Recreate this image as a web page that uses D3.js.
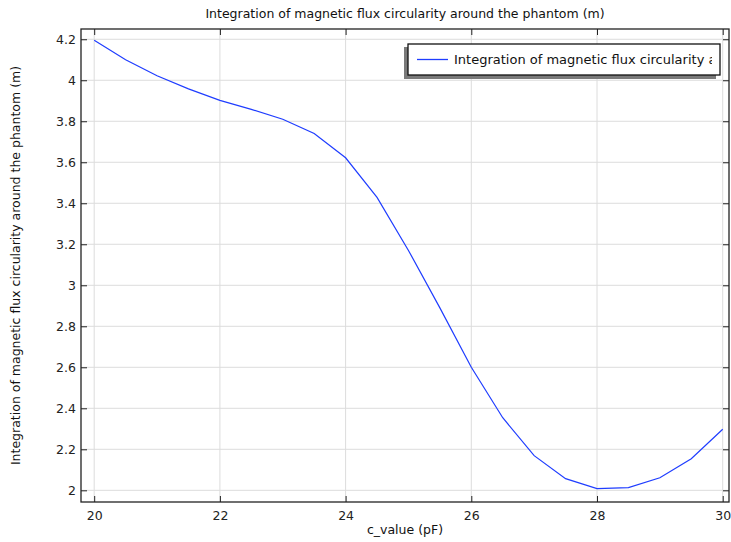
<!DOCTYPE html>
<html>
<head>
<meta charset="utf-8">
<script src="https://cdn.jsdelivr.net/npm/d3@7"></script>
<style>
  body { margin: 0; background: #fff; }
  svg { display: block; font-family: "DejaVu Sans", sans-serif; }
</style>
</head>
<body>
<div id="chart"></div>
<script>
// c_value sweep (pF) and the integrated flux circularity (m)
const cValues = [20, 20.5, 21, 21.5, 22, 22.5, 23, 23.5, 24, 24.5, 25,
                 25.5, 26, 26.5, 27, 27.5, 28, 28.5, 29, 29.5, 30];
const fluxValues = [4.195, 4.10, 4.022, 3.958, 3.902, 3.858, 3.81, 3.74, 3.622, 3.429, 3.17,
                    2.89, 2.60, 2.354, 2.169, 2.057, 2.008, 2.013, 2.061, 2.154, 2.298];
const xTicks = [20, 22, 24, 26, 28, 30];
const yTicks = [2, 2.2, 2.4, 2.6, 2.8, 3, 3.2, 3.4, 3.6, 3.8, 4, 4.2];

const titleText = 'Integration of magnetic flux circularity around the phantom (m)';
const xLabel = 'c_value (pF)';
const yLabel = 'Integration of magnetic flux circularity around the phantom (m)';
const legendText = 'Integration of magnetic flux circularity around the phantom (m)';

const W = 731, H = 542;
const margin = { top: 29, right: 2, bottom: 40, left: 81 };
const width = W - margin.left - margin.right;
const height = H - margin.top - margin.bottom;

const svg = d3.select('#chart').append('svg')
  .attr('width', W)
  .attr('height', H);

const g = svg.append('g').attr('transform', `translate(${margin.left},${margin.top})`);

const x = d3.scaleLinear().domain([19.79, 30.1]).range([0, width]);
const y = d3.scaleLinear().domain([1.943, 4.25]).range([height, 0]);
const fmt = d3.format('~g');

// grid
g.append('g')
  .selectAll('line').data(xTicks).join('line')
  .attr('x1', d => x(d)).attr('x2', d => x(d))
  .attr('y1', 0).attr('y2', height)
  .attr('stroke', '#dcdcdc').attr('stroke-width', 1);
g.append('g')
  .selectAll('line').data(yTicks).join('line')
  .attr('x1', 0).attr('x2', width)
  .attr('y1', d => y(d)).attr('y2', d => y(d))
  .attr('stroke', '#dcdcdc').attr('stroke-width', 1);

// axes, ticks pointing inwards
const axisStyle = ax => {
  ax.select('.domain').remove();
  ax.selectAll('.tick line').attr('stroke', '#222');
  ax.selectAll('.tick text').attr('fill', '#222').attr('font-size', 12.5)
    .attr('font-family', '"DejaVu Sans", sans-serif');
};

g.append('g')
  .attr('transform', `translate(0,${height})`)
  .call(d3.axisBottom(x).tickValues(xTicks).tickFormat(fmt).tickSizeInner(-6).tickPadding(9))
  .call(axisStyle);
g.append('g')
  .call(d3.axisTop(x).tickValues(xTicks).tickSizeInner(-6).tickFormat(''))
  .call(axisStyle);
g.append('g')
  .call(d3.axisLeft(y).tickValues(yTicks).tickFormat(fmt).tickSizeInner(-6).tickPadding(5))
  .call(axisStyle);
g.append('g')
  .attr('transform', `translate(${width},0)`)
  .call(d3.axisRight(y).tickValues(yTicks).tickSizeInner(-6).tickFormat(''))
  .call(axisStyle);

// frame
g.append('rect')
  .attr('width', width).attr('height', height)
  .attr('fill', 'none').attr('stroke', '#222').attr('stroke-width', 1.3);

// data line
const line = d3.line()
  .x((d, i) => x(cValues[i]))
  .y(d => y(d));

g.append('path')
  .datum(fluxValues)
  .attr('fill', 'none')
  .attr('stroke', '#1f3dff')
  .attr('stroke-width', 1.2)
  .attr('d', line);

// legend (text is clipped by the box, as in the original)
const lg = svg.append('g').attr('transform', 'translate(404,44)');
lg.append('rect').attr('x', 0).attr('y', 3).attr('width', 312).attr('height', 32)
  .attr('fill', '#7a7a7a');
lg.append('rect').attr('x', 4).attr('y', 0).attr('width', 312).attr('height', 31)
  .attr('fill', '#fff').attr('stroke', '#111').attr('stroke-width', 1.3);
svg.append('clipPath').attr('id', 'legclip')
  .append('rect').attr('x', 408).attr('y', 44).attr('width', 304).attr('height', 31);
lg.append('line').attr('x1', 13).attr('x2', 44).attr('y1', 15.5).attr('y2', 15.5)
  .attr('stroke', '#1f3dff').attr('stroke-width', 1.3);
svg.append('text')
  .attr('clip-path', 'url(#legclip)')
  .attr('x', 454).attr('y', 64)
  .attr('font-size', 13).attr('fill', '#111')
  .text(legendText);

// titles
svg.append('text')
  .attr('x', margin.left + width / 2).attr('y', 18)
  .attr('text-anchor', 'middle').attr('font-size', 12.5).attr('fill', '#111')
  .text(titleText);
svg.append('text')
  .attr('x', margin.left + width / 2).attr('y', 534)
  .attr('text-anchor', 'middle').attr('font-size', 12.5).attr('fill', '#111')
  .text(xLabel);
svg.append('text')
  .attr('transform', `translate(20,${margin.top + height / 2}) rotate(-90)`)
  .attr('text-anchor', 'middle').attr('font-size', 12.5).attr('fill', '#111')
  .text(yLabel);
</script>
</body>
</html>
